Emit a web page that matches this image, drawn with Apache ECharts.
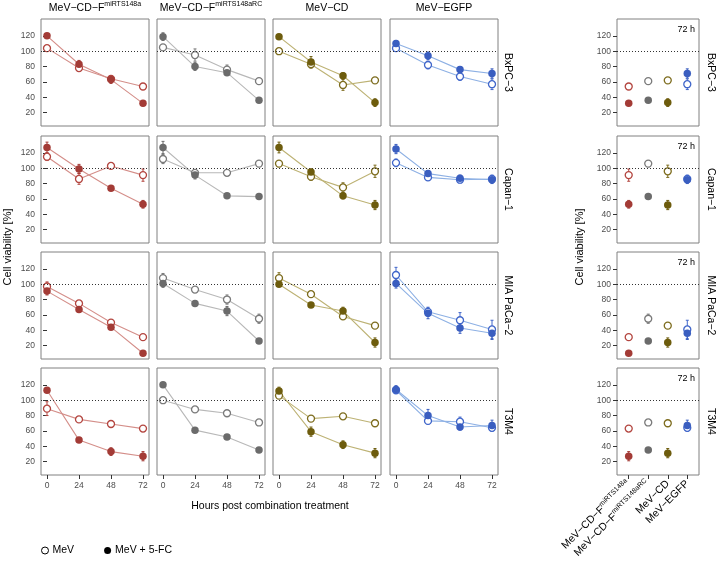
<!DOCTYPE html>
<html><head><meta charset="utf-8">
<script src="https://cdn.jsdelivr.net/npm/echarts@6/dist/echarts.min.js"></script>
<style>html,body{margin:0;padding:0;background:#fff}#c{width:718px;height:565px}</style>
</head><body><div id="c"></div>
<script>
// ---------- data ----------
const hours = [0, 24, 48, 72];
const yTicks = [20, 40, 60, 80, 100, 120];
const cellLines = ['BxPC−3', 'Capan−1', 'MIA PaCa−2', 'T3M4'];
const virusNames = ['MeV−CD−F', 'MeV−CD−F', 'MeV−CD', 'MeV−EGFP'];
const virusSup = ['miRTS148a', 'miRTS148aRC', '', ''];
const legendLabels = ['MeV', 'MeV + 5-FC'];

// one row per virus (column order), one value per time point
const bxpc3_mev = [[104,78,64,54],[105,95,76,61],[100,83,56,62],[104,82,67,57]];
const bxpc3_mev_err = [[3,3,4,3],[3,8,6,3],[2,5,7,3],[3,5,5,7]];
const bxpc3_fc = [[120,83,63,32],[119,80,72,36],[119,86,68,33],[110,94,76,71]];
const bxpc3_fc_err = [[3,5,5,3],[5,5,3,3],[3,7,4,5],[4,5,4,6]];

const capan1_mev = [[115,86,103,91],[112,94,94,106],[106,89,75,96],[107,88,85,86]];
const capan1_mev_err = [[5,7,3,8],[6,4,3,4],[4,5,6,8],[5,4,4,5]];
const capan1_fc = [[127,99,74,53],[127,91,64,63],[127,95,64,52],[125,93,87,85]];
const capan1_fc_err = [[7,6,3,5],[8,5,3,3],[7,4,4,6],[6,4,4,5]];

const miapaca2_mev = [[97,75,50,31],[108,93,80,55],[108,87,58,46],[112,64,53,41]];
const miapaca2_mev_err = [[6,3,3,3],[6,3,6,6],[7,3,3,3],[10,6,10,12]];
const miapaca2_fc = [[91,67,44,10],[101,75,65,26],[100,73,65,24],[101,62,43,36]];
const miapaca2_fc_err = [[5,3,3,2],[5,3,6,3],[3,3,5,6],[6,7,7,8]];

const t3m4_mev = [[89,75,69,63],[100,88,83,71],[106,76,79,70],[113,73,72,64]];
const t3m4_mev_err = [[9,3,3,3],[3,3,3,3],[3,3,3,3],[4,4,6,4]];
const t3m4_fc = [[113,48,33,27],[120,61,52,35],[112,59,42,31],[114,80,65,67]];
const t3m4_fc_err = [[3,3,5,6],[3,3,3,3],[5,6,5,6],[5,8,4,7]];

// ---------- styles / layout ----------
const fillColors = ['#A33B36', '#6B6B6B', '#6D5C0D', '#3A5EC0'];
const lineColors = ['#D48E89', '#B8B8B8', '#BDB274', '#8DB0E4'];
const openColors = ['#B3453F', '#7A7A7A', '#7D6C1E', '#4066CA'];
const FONT = '"Liberation Sans", Arial, Helvetica, sans-serif';
const colLeft = [41, 157, 273, 390];
const rowTop = [19, 136, 252, 368];
const panelW = 108, panelH = 107;
const rightLeft = 617, rightW = 82;
const Y_MIN = 2.5, Y_MAX = 142;

const mevAll = [bxpc3_mev, capan1_mev, miapaca2_mev, t3m4_mev];
const mevErrAll = [bxpc3_mev_err, capan1_mev_err, miapaca2_mev_err, t3m4_mev_err];
const fcAll = [bxpc3_fc, capan1_fc, miapaca2_fc, t3m4_fc];
const fcErrAll = [bxpc3_fc_err, capan1_fc_err, miapaca2_fc_err, t3m4_fc_err];

const chart = echarts.init(document.getElementById('c'), null, {renderer: 'canvas'});
const grid = [], xAxis = [], yAxis = [], series = [];

function richName(i) {
  return virusSup[i] ? `{a|${virusNames[i]}}{b|${virusSup[i]}}` : `{a|${virusNames[i]}}`;
}
const richStyles = {
  a: {fontSize: 10.5, color: '#000', fontFamily: FONT, lineHeight: 14},
  b: {fontSize: 7, color: '#000', fontFamily: FONT, verticalAlign: 'top', lineHeight: 8}
};

function addGrid(r, left, width, showY, isRight) {
  const gi = grid.length;
  const bottom = r === 3;
  grid.push({left, top: rowTop[r], width, height: panelH, show: true,
    borderColor: '#808080', borderWidth: 1, backgroundColor: 'transparent', containLabel: false});
  const xTicks = isRight ? [1, 2, 3, 4] : hours;
  xAxis.push({gridIndex: gi, type: 'value', min: isRight ? 0.4 : -4.5, max: isRight ? 4.6 : 76.5,
    axisLine: {show: false}, splitLine: {show: false},
    axisTick: {show: bottom, length: 4, lineStyle: {color: '#333', width: 1}, customValues: xTicks},
    axisLabel: {show: bottom, customValues: xTicks, fontSize: 8.5, color: '#4d4d4d', fontFamily: FONT,
      margin: isRight ? 7 : 6, rotate: isRight ? 45 : 0,
      formatter: isRight ? (v => richName(Math.round(v) - 1)) : (v => String(v)),
      rich: isRight ? richStyles : undefined}});
  yAxis.push({gridIndex: gi, type: 'value', min: Y_MIN, max: Y_MAX,
    axisLine: {show: false}, splitLine: {show: false},
    axisTick: {show: showY, length: 4, lineStyle: {color: '#333', width: 1}, customValues: yTicks},
    axisLabel: {show: showY, customValues: yTicks, fontSize: 8.5, color: '#4d4d4d', fontFamily: FONT, margin: 6}});
  return gi;
}

function errSeries(gi, pts, colorOf) {
  return {type: 'custom', xAxisIndex: gi, yAxisIndex: gi, z: 3, silent: true, data: pts,
    encode: {x: 0, y: 1},
    renderItem(params, api) {
      const x = api.value(0), y = api.value(1), e = api.value(2);
      const t = api.coord([x, y + e]), b = api.coord([x, y - e]);
      const st = {stroke: colorOf(params.dataIndex), lineWidth: 1};
      return {type: 'group', children: [
        {type: 'line', shape: {x1: t[0], y1: t[1], x2: b[0], y2: b[1]}, style: st},
        {type: 'line', shape: {x1: t[0] - 1.5, y1: t[1], x2: t[0] + 1.5, y2: t[1]}, style: st},
        {type: 'line', shape: {x1: b[0] - 1.5, y1: b[1], x2: b[0] + 1.5, y2: b[1]}, style: st}
      ]};
    }};
}

const refLine = {silent: true, symbol: ['none', 'none'], label: {show: false},
  lineStyle: {type: [1, 2], color: '#333', width: 1}, data: [{yAxis: 100}], animation: false};

// time course panels
for (let r = 0; r < 4; r++) {
  for (let c = 0; c < 4; c++) {
    const gi = addGrid(r, colLeft[c], panelW, c === 0, false);
    const mev = mevAll[r][c], fc = fcAll[r][c];
    const mevE = mevErrAll[r][c], fcE = fcErrAll[r][c];
    const mevPts = hours.map((h, k) => [h, mev[k], mevE[k]]);
    const fcPts = hours.map((h, k) => [h, fc[k], fcE[k]]);
    series.push({type: 'line', xAxisIndex: gi, yAxisIndex: gi, data: mevPts.map(p => [p[0], p[1]]),
      showSymbol: false, symbol: 'none', z: 2, silent: true,
      lineStyle: {color: lineColors[c], width: 1.1}, markLine: refLine});
    series.push({type: 'line', xAxisIndex: gi, yAxisIndex: gi, data: fcPts.map(p => [p[0], p[1]]),
      showSymbol: false, symbol: 'none', z: 2, silent: true,
      lineStyle: {color: lineColors[c], width: 1.1}});
    series.push(errSeries(gi, mevPts, () => openColors[c]));
    series.push(errSeries(gi, fcPts, () => fillColors[c]));
    series.push({type: 'scatter', name: legendLabels[0], xAxisIndex: gi, yAxisIndex: gi, z: 4,
      data: mevPts.map(p => [p[0], p[1]]), symbol: 'circle', symbolSize: 7,
      itemStyle: {color: '#fff', borderColor: openColors[c], borderWidth: 1.3, opacity: 1}});
    series.push({type: 'scatter', name: legendLabels[1], xAxisIndex: gi, yAxisIndex: gi, z: 5,
      data: fcPts.map(p => [p[0], p[1]]), symbol: 'circle', symbolSize: 7.5,
      itemStyle: {color: fillColors[c], opacity: 1}});
  }
  // 72 h summary panel
  const gi = addGrid(r, rightLeft, rightW, true, true);
  const last = hours.length - 1;
  const mevPts = virusNames.map((v, i) => [i + 1, mevAll[r][i][last], mevErrAll[r][i][last]]);
  const fcPts = virusNames.map((v, i) => [i + 1, fcAll[r][i][last], fcErrAll[r][i][last]]);
  series.push({type: 'line', xAxisIndex: gi, yAxisIndex: gi, data: [], markLine: refLine, silent: true});
  series.push(errSeries(gi, mevPts, i => openColors[i]));
  series.push(errSeries(gi, fcPts, i => fillColors[i]));
  series.push({type: 'scatter', name: legendLabels[0], xAxisIndex: gi, yAxisIndex: gi, z: 4,
    data: mevPts.map((p, i) => ({value: [p[0], p[1]], itemStyle: {borderColor: openColors[i]}})),
    symbol: 'circle', symbolSize: 7,
    itemStyle: {color: '#fff', borderWidth: 1.3, opacity: 1}});
  series.push({type: 'scatter', name: legendLabels[1], xAxisIndex: gi, yAxisIndex: gi, z: 5,
    data: fcPts.map((p, i) => ({value: [p[0], p[1]], itemStyle: {color: fillColors[i]}})),
    symbol: 'circle', symbolSize: 7.5, itemStyle: {opacity: 1}});
}

// ---------- texts ----------
const graphic = [];
for (let c = 0; c < 4; c++) {
  graphic.push({type: 'text', x: colLeft[c] + panelW / 2, y: 8, silent: true,
    style: {text: richName(c), rich: richStyles, align: 'center', verticalAlign: 'middle'}});
}
for (let r = 0; r < 4; r++) {
  const cy = rowTop[r] + panelH / 2;
  graphic.push({type: 'text', x: 508, y: cy, rotation: -Math.PI / 2, silent: true,
    style: {text: cellLines[r], font: `10.5px ${FONT}`, fill: '#000', align: 'center', verticalAlign: 'middle'}});
  graphic.push({type: 'text', x: 711, y: cy, rotation: -Math.PI / 2, silent: true,
    style: {text: cellLines[r], font: `10.5px ${FONT}`, fill: '#000', align: 'center', verticalAlign: 'middle'}});
  graphic.push({type: 'text', x: rightLeft + rightW - 4, y: rowTop[r] + 11, silent: true,
    style: {text: '72 h', font: `9px ${FONT}`, fill: '#000', align: 'right', verticalAlign: 'middle'}});
}
graphic.push({type: 'text', x: 8, y: 247, rotation: Math.PI / 2, silent: true,
  style: {text: 'Cell viability [%]', font: `11px ${FONT}`, fill: '#000', align: 'center', verticalAlign: 'middle'}});
graphic.push({type: 'text', x: 580, y: 247, rotation: Math.PI / 2, silent: true,
  style: {text: 'Cell viability [%]', font: `11px ${FONT}`, fill: '#000', align: 'center', verticalAlign: 'middle'}});
graphic.push({type: 'text', x: 270, y: 506, silent: true,
  style: {text: 'Hours post combination treatment', font: `10.5px ${FONT}`, fill: '#000', align: 'center', verticalAlign: 'middle'}});

chart.setOption({
  animation: false,
  backgroundColor: '#fff',
  grid, xAxis, yAxis, series, graphic,
  legend: {
    left: 41, top: 545, padding: 0, itemWidth: 7, itemHeight: 7, itemGap: 30, selectedMode: false,
    textStyle: {fontSize: 10.5, color: '#000', fontFamily: FONT, padding: [0, 0, 0, -1]},
    data: [
      {name: legendLabels[0], icon: 'circle', itemStyle: {color: '#fff', borderColor: '#000', borderWidth: 1}},
      {name: legendLabels[1], icon: 'circle', itemStyle: {color: '#000', borderWidth: 0}}
    ]
  }
});
</script></body></html>
